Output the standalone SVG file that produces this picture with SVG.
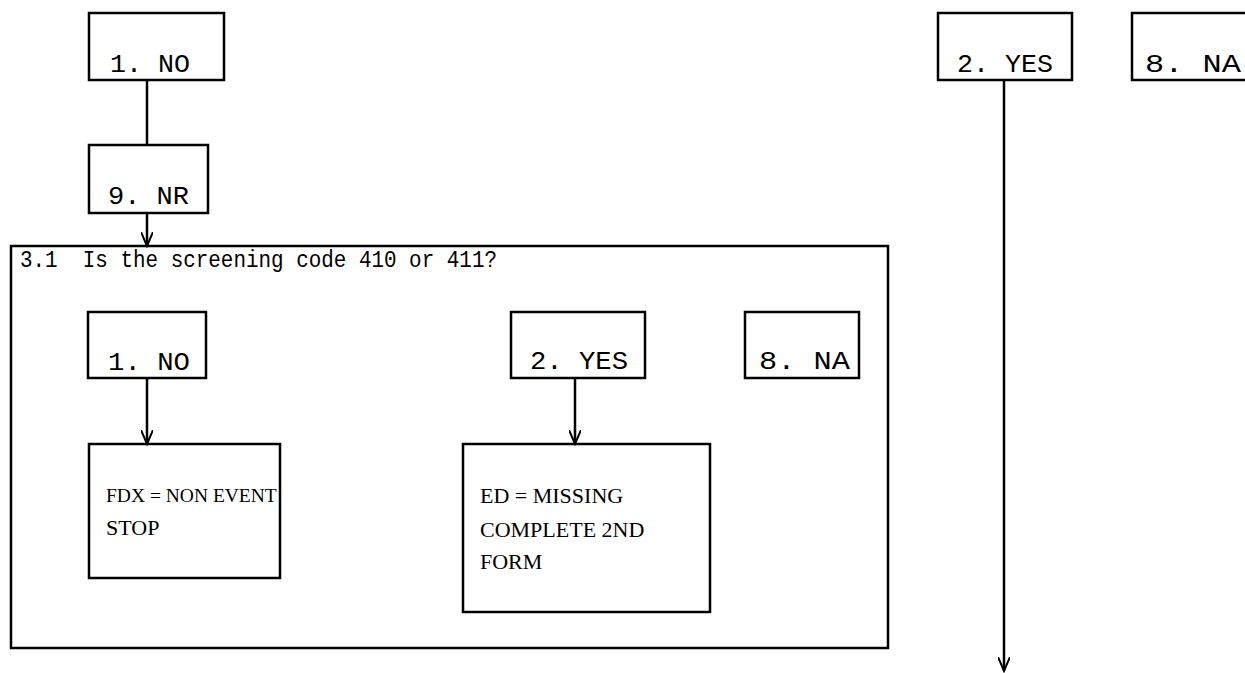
<svg xmlns="http://www.w3.org/2000/svg" width="1245" height="673" viewBox="0 0 1245 673">
<defs>
<style>
.b{fill:#fff;stroke:#000;stroke-width:2.5}
.t{font-family:"Liberation Mono","DejaVu Sans Mono",monospace;font-size:26px;fill:#000}
.h{font-family:"Liberation Mono","DejaVu Sans Mono",monospace;font-size:23px;fill:#000}
.s{font-family:"Liberation Serif","DejaVu Serif",serif;font-size:22px;fill:#000}
.c{fill:none;stroke:#000;stroke-width:2.5}
</style>
<marker id="a" markerWidth="16" markerHeight="12" refX="14" refY="6" orient="auto" markerUnits="userSpaceOnUse">
<path d="M0,0 L14,6 L0,12" fill="none" stroke="#000" stroke-width="2"/>
</marker>
</defs>
<rect width="1245" height="673" fill="#fff"/>
<g id="q3_1">
<rect class="b" x="11" y="246" width="877" height="402"/>
<text class="h" x="20" y="267" textLength="477" lengthAdjust="spacingAndGlyphs" xml:space="preserve">3.1  Is the screening code 410 or 411?</text>
</g>
<g id="top_no"><rect class="b" x="89" y="13" width="135" height="67"/><text class="t" x="110" y="72" textLength="80" lengthAdjust="spacingAndGlyphs">1. NO</text></g>
<g id="top_nr"><rect class="b" x="89" y="145" width="119" height="68"/><text class="t" x="108" y="204" textLength="81" lengthAdjust="spacingAndGlyphs">9. NR</text></g>
<g id="top_yes"><rect class="b" x="938" y="13" width="134" height="67"/><text class="t" x="957" y="72" textLength="96" lengthAdjust="spacingAndGlyphs">2. YES</text></g>
<g id="top_na"><rect class="b" x="1132" y="13" width="125" height="67"/><text class="t" x="1145" y="72" textLength="96" lengthAdjust="spacingAndGlyphs">8. NA</text></g>
<g id="in_no"><rect class="b" x="88" y="312" width="118" height="66"/><text class="t" x="108" y="370" textLength="82" lengthAdjust="spacingAndGlyphs">1. NO</text></g>
<g id="in_yes"><rect class="b" x="511" y="312" width="134" height="66"/><text class="t" x="530" y="369" textLength="98" lengthAdjust="spacingAndGlyphs">2. YES</text></g>
<g id="in_na"><rect class="b" x="745" y="312" width="114" height="66"/><text class="t" x="759" y="369" textLength="91" lengthAdjust="spacingAndGlyphs">8. NA</text></g>
<g id="fdx"><rect class="b" x="89" y="444" width="191" height="134"/>
<text class="s" x="106" y="502" style="font-size:19.5px">FDX = NON EVENT</text><text class="s" x="106" y="535">STOP</text></g>
<g id="ed"><rect class="b" x="463" y="444" width="247" height="168"/>
<text class="s" x="480" y="503">ED = MISSING</text><text class="s" x="480" y="537">COMPLETE 2ND</text><text class="s" x="480" y="569">FORM</text></g>
<g id="connectors">
<line class="c" x1="147" y1="80" x2="147" y2="145"/>
<line class="c" x1="147" y1="213" x2="147" y2="246" marker-end="url(#a)"/>
<line class="c" x1="147" y1="378" x2="147" y2="444" marker-end="url(#a)"/>
<line class="c" x1="575" y1="378" x2="575" y2="444" marker-end="url(#a)"/>
<line class="c" x1="1004" y1="80" x2="1004" y2="671" marker-end="url(#a)"/>
</g>
</svg>
